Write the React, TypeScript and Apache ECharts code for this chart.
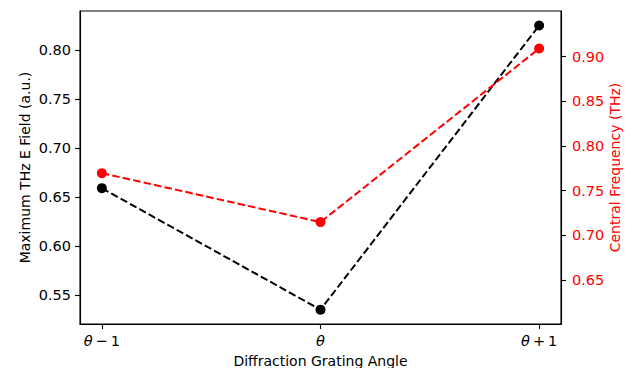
import React, { useEffect, useRef } from "react";
import * as echarts from "echarts";

const categories = ["θ", "θ", "θ"];
const xSuffix = ["\u2009−\u20091", "", "\u2009+\u20091"];
const xPositions = [0, 1, 2];
const maxEField = [0.659, 0.535, 0.825];
const centralFreq = [0.7696, 0.7148, 0.909];
const leftTicks = [0.55, 0.6, 0.65, 0.7, 0.75, 0.8];
const rightTicks = [0.65, 0.7, 0.75, 0.8, 0.85, 0.9];

const FONT = "DejaVu Sans";

export default function App() {
  const ref = useRef<HTMLDivElement>(null);
  useEffect(() => {
    if (!ref.current) return;
    const chart = echarts.init(ref.current, null, { renderer: "svg" });
    const blackData = xPositions.map((x, i) => [x, maxEField[i]]);
    const redData = xPositions.map((x, i) => [x, centralFreq[i]]);
    chart.setOption({
      animation: false,
      backgroundColor: "#fff",
      grid: {
        left: 80,
        right: 73,
        top: 11,
        bottom: 44,
        containLabel: false,
        outerBoundsMode: "none",
        show: true,
        borderColor: "#000",
        borderWidth: 1.1,
        backgroundColor: "transparent",
      },
      xAxis: {
        type: "value",
        min: -0.1,
        max: 2.1,
        name: "Diffraction Grating Angle",
        nameLocation: "middle",
        nameGap: 30,
        nameTextStyle: { fontFamily: FONT, fontSize: 14, color: "#000" },
        axisLine: { show: true, onZero: false, lineStyle: { color: "#000", width: 1.1 } },
        axisTick: { show: true, length: 5, customValues: xPositions, lineStyle: { color: "#000", width: 1.1 } },
        splitLine: { show: false },
        axisLabel: {
          customValues: xPositions,
          margin: 9,
          fontFamily: FONT,
          fontSize: 14.5,
          color: "#000",
          formatter: (v: number) => {
            const i = xPositions.indexOf(Math.round(v));
            if (i < 0) return "";
            return `{i|${categories[i]}}{n|${xSuffix[i]}}`;
          },
          rich: {
            i: { fontStyle: "italic", fontFamily: FONT, fontSize: 14.5, color: "#000" },
            n: { fontFamily: FONT, fontSize: 14.5, color: "#000" },
          },
        },
      },
      yAxis: [
        {
          type: "value",
          position: "left",
          min: 0.5204,
          max: 0.8398,
          name: "Maximum THz E Field (a.u.)",
          nameLocation: "middle",
          nameGap: 48,
          nameMoveOverlap: false,
          nameTextStyle: { fontFamily: FONT, fontSize: 14, color: "#000" },
          axisLine: { show: true, onZero: false, lineStyle: { color: "#000", width: 1.1 } },
          axisTick: { show: true, length: 5, customValues: leftTicks, lineStyle: { color: "#000", width: 1.1 } },
          splitLine: { show: false },
          axisLabel: {
            customValues: leftTicks,
            margin: 9,
            fontFamily: FONT,
            fontSize: 14.5,
            color: "#000",
            formatter: (v: number) => v.toFixed(2),
          },
        },
        {
          type: "value",
          position: "right",
          min: 0.6008,
          max: 0.951,
          name: "Central Frequency (THz)",
          nameLocation: "middle",
          nameGap: 47,
          nameMoveOverlap: false,
          nameRotate: 90,
          nameTextStyle: { fontFamily: FONT, fontSize: 14, color: "#ff0000" },
          axisLine: { show: true, onZero: false, lineStyle: { color: "#000", width: 1.1 } },
          axisTick: { show: true, length: 5, customValues: rightTicks, lineStyle: { color: "#000", width: 1.1 } },
          splitLine: { show: false },
          axisLabel: {
            customValues: rightTicks,
            margin: 11,
            fontFamily: FONT,
            fontSize: 14.5,
            color: "#ff0000",
            formatter: (v: number) => v.toFixed(2),
          },
        },
      ],
      series: [
        {
          type: "line",
          yAxisIndex: 0,
          data: blackData,
          symbol: "circle",
          symbolSize: 10,
          itemStyle: { color: "#000" },
          lineStyle: { color: "#000", width: 2, type: [7.5, 3.2] },
        },
        {
          type: "line",
          yAxisIndex: 1,
          data: redData,
          symbol: "circle",
          symbolSize: 10,
          itemStyle: { color: "#ff0000" },
          lineStyle: { color: "#ff0000", width: 2, type: [7.5, 3.2] },
        },
      ],
    });
    return () => chart.dispose();
  }, []);
  return <div ref={ref} style={{ width: 634, height: 368, position: "absolute", left: 0, top: 0 }} />;
}
